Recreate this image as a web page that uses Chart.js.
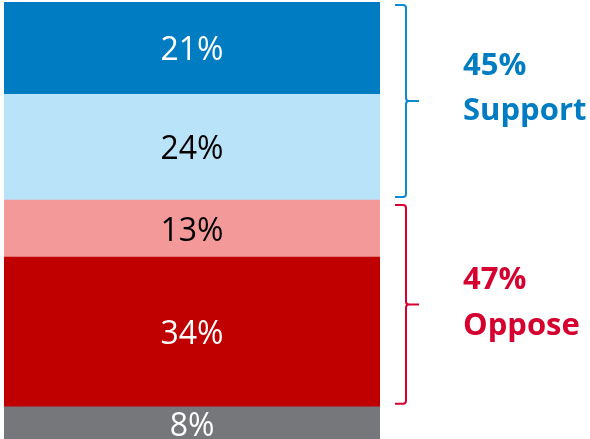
<!DOCTYPE html>
<html>
<head>
<meta charset="utf-8">
<script src="https://cdn.jsdelivr.net/npm/chart.js@4/dist/chart.umd.min.js"></script>
<style>
html,body{margin:0;padding:0;background:#fff;overflow:hidden;width:590px;height:439px;}
#wrap{position:relative;width:590px;height:442px;}
</style>
</head>
<body>
<div id="wrap"><canvas id="c" width="590" height="442"></canvas></div>
<script>
// Data (stacked bottom to top)
const categories = ["All"];
const seriesNames = ["Don't know", "Strongly oppose", "Somewhat oppose", "Somewhat support", "Strongly support"];
const seriesValues = [8, 34, 13, 24, 21];
const seriesColors = ["#76777B", "#C00000", "#F4999A", "#B8E3F8", "#007CC3"];
const labelColors = ["#FFFFFF", "#FFFFFF", "#000000", "#000000", "#FFFFFF"];
const groupNames = ["Support", "Oppose"];
const groupTotals = [45, 47];
const groupColors = ["#007CC3", "#D5002F"];
const braceColors = ["#0A8BD0", "#D5002F"];

const datasets = seriesNames.map((n, i) => ({
  label: n,
  data: [seriesValues[i]],
  backgroundColor: seriesColors[i],
  borderWidth: 0,
  barPercentage: 1,
  categoryPercentage: 1
}));

const overlay = {
  id: 'overlay',
  afterDatasetsDraw(chart) {
    const ctx = chart.ctx;
    const y = chart.scales.y;
    ctx.save();
    ctx.font = '32px "Open Sans"';
    ctx.textAlign = 'center';
    ctx.textBaseline = 'alphabetic';
    chart.data.datasets.forEach((ds, i) => {
      const bar = chart.getDatasetMeta(i).data[0];
      const cy = (bar.y + bar.base) / 2;
      ctx.fillStyle = labelColors[i];
      ctx.fillText(ds.data[0] + '%', bar.x, cy + 12);
    });
    ctx.restore();

    let cum = 0;
    const cums = seriesValues.map(v => (cum += v));
    const ranges = [[cums[2], cums[4]], [cums[0], cums[2]]];
    const textOffsets = [[-26, 19], [-15, 31]];
    const xl = 395, xv = 406, xt = 419;
    ranges.forEach((r, k) => {
      const top = y.getPixelForValue(r[1]) + (k === 0 ? 3 : 5);
      const bot = y.getPixelForValue(r[0]) - 3;
      const mid = (top + bot) / 2;
      ctx.save();
      ctx.strokeStyle = braceColors[k];
      ctx.lineWidth = 2;
      ctx.beginPath();
      ctx.moveTo(xl, top);
      ctx.lineTo(xv - 3, top);
      ctx.quadraticCurveTo(xv, top, xv, top + 3);
      ctx.lineTo(xv, mid - 3);
      ctx.quadraticCurveTo(xv, mid, xv + 3, mid);
      ctx.lineTo(xt, mid);
      ctx.moveTo(xv + 3, mid);
      ctx.quadraticCurveTo(xv, mid, xv, mid + 3);
      ctx.lineTo(xv, bot - 3);
      ctx.quadraticCurveTo(xv, bot, xv - 3, bot);
      ctx.lineTo(xl, bot);
      ctx.stroke();
      ctx.fillStyle = groupColors[k];
      ctx.font = 'bold 31px "Open Sans"';
      ctx.textAlign = 'left';
      ctx.textBaseline = 'alphabetic';
      ctx.fillText(groupTotals[k] + '%', 463, mid + textOffsets[k][0]);
      ctx.fillText(groupNames[k], 463, mid + textOffsets[k][1]);
      ctx.restore();
    });
  }
};

new Chart(document.getElementById('c'), {
  type: 'bar',
  data: { labels: categories, datasets },
  options: {
    responsive: false,
    animation: false,
    layout: { padding: { left: 4, right: 210, top: 2, bottom: 0 } },
    plugins: { legend: { display: false }, tooltip: { enabled: false } },
    scales: {
      x: { stacked: true, display: false },
      y: { stacked: true, display: false, min: 0, max: 100 }
    }
  },
  plugins: [overlay]
});
</script>
</body>
</html>
